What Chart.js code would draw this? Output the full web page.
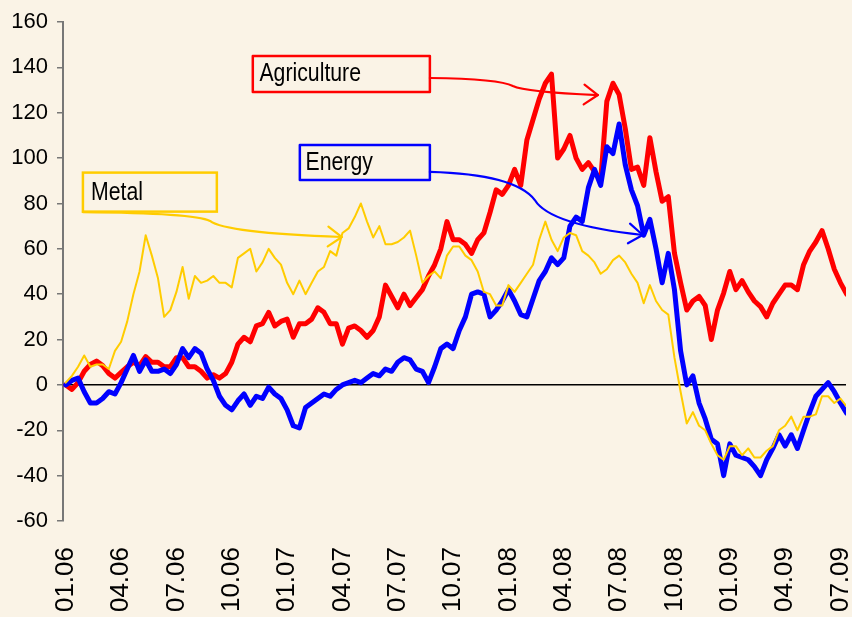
<!DOCTYPE html>
<html>
<head>
<meta charset="utf-8">
<script src="https://cdn.jsdelivr.net/npm/chart.js@4.4.0/dist/chart.umd.min.js"></script>
<style>
  html, body { margin: 0; padding: 0; background: #FAF3E6; }
  #wrap { width: 852px; height: 617px; }
</style>
</head>
<body>
<div id="wrap"><canvas id="chart" width="852" height="617"></canvas></div>
<script>
// quarter labels, one every 3 months starting 01.06
var tickLabels = ['01.06', '04.06', '07.06', '10.06', '01.07', '04.07', '07.07', '10.07',
                  '01.08', '04.08', '07.08', '10.08', '01.09', '04.09', '07.09'];

// one sample every third of a month (% change)
var step = 1 / 3;

var agriculture = [
  0, -2, 1, 6, 9, 10.5, 8.5, 5, 3, 5.5,
  8, 10, 8.5, 12.5, 10, 10, 8, 8, 12, 12,
  8, 8, 6, 3, 4.5, 3, 5, 10, 18, 21,
  19, 26, 27, 32, 26, 28, 29, 21, 27, 27,
  29, 34, 32, 27, 27, 18, 25, 26, 24, 21,
  24, 30, 44, 39, 34, 40, 35, 38.5, 42, 48,
  53, 60, 72, 64, 64, 62, 58, 64, 67, 76,
  86, 84, 88, 95, 88, 108, 117, 126, 133, 137,
  100, 104, 110, 100, 95, 98, 94, 90, 125, 133,
  128, 113, 95, 96, 88, 109, 94, 81, 83, 58,
  45, 33, 37, 39, 35, 20, 33, 40.5, 50, 42,
  46, 41, 37, 34.5, 30, 36, 40, 44, 44, 42,
  53, 59, 63, 68, 60, 51, 45, 40
];

var energy = [
  0, 2, 3, -3, -8, -8, -6, -3, -4, 1,
  7, 13, 6, 11, 6, 6, 7, 5, 9, 16,
  12, 16, 14, 7, 2, -5, -9, -11, -7, -4,
  -9, -5, -6, -1, -4, -6, -11, -18, -19, -10,
  -8, -6, -4, -5, -2, 0, 1, 2, 1, 3,
  5, 4, 7, 6, 10, 12, 11, 7, 6, 1,
  8, 16, 18, 16, 24, 30, 40, 41, 40, 30,
  33, 37, 42, 37, 31, 30, 38, 46, 50, 56,
  53, 56, 70, 74, 72, 87, 95, 88, 105, 102,
  115, 97, 86, 79, 66, 73, 60, 45, 58, 42,
  15, 0, 4, -8, -15, -24, -26, -40, -26, -31,
  -32, -33, -36, -40, -33, -28, -22, -27, -22, -28,
  -20, -12, -5, -2, 1, -3, -8, -12.5
];

var metal = [
  1, 4, 8, 13, 8, 9, 9, 7, 15, 19,
  28, 40, 50, 66, 57, 47, 30, 33, 41, 52,
  38, 48, 45, 46, 48, 45, 45, 43, 56, 58,
  60, 50, 54, 60, 56, 53, 45, 40, 46, 40,
  45, 50, 52, 59, 57, 67, 69, 74, 80, 72,
  65, 70, 62, 62, 63, 65, 68, 57, 45, 48,
  50, 47, 57, 61, 61, 57, 55, 50, 41, 40,
  35, 35, 44, 41, 45, 49, 53, 64, 72, 64,
  59, 65, 67, 66, 59, 57, 54, 49, 51, 55,
  57, 54, 49, 45, 36, 44, 37, 33, 31, 12,
  -3, -17, -12, -18, -20, -26, -31, -33, -27, -27,
  -31, -28, -32, -32, -29, -27, -20, -18, -14, -20,
  -14, -14, -13, -5, -5, -8, -6, -9.5
];

var BG = '#FAF3E6';
var FONT = "'Liberation Sans', Arial, sans-serif";

// callouts in data units: box corners, text anchor, connector (start, ctrl, mid, ctrl, tip)
var callouts = [
  { label: 'Metal', color: '#FFCC00',
    box: [0.93, 93.6, 8.19, 76.4], text: [1.37, 84.6],
    path: [[0.93, 76.2], [6.98, 75.8], [7.82, 72.3], [8.64, 67.0], [14.97, 65.2]] },
  { label: 'Agriculture', color: '#FF0000',
    box: [10.14, 145.0, 19.74, 129.1], text: [10.5, 137.0],
    path: [[19.74, 135.3], [23.53, 134.9], [24.24, 131.8], [24.89, 129.2], [28.85, 127.8]] },
  { label: 'Energy', color: '#0000FF',
    box: [12.69, 105.8, 19.74, 90.3], text: [13.0, 98.0],
    path: [[19.74, 93.9], [24.35, 92.9], [25.43, 81.5], [26.24, 70.5], [31.28, 66.1]] }
];

function toPoints(values) {
  return values.map(function (v, i) { return { x: i * step, y: v }; });
}

var background = {
  id: 'background',
  beforeDraw: function (chart) {
    var ctx = chart.ctx;
    ctx.save();
    ctx.fillStyle = BG;
    ctx.fillRect(0, 0, chart.width, chart.height);
    ctx.restore();
  }
};

var calloutPlugin = {
  id: 'callouts',
  afterDatasetsDraw: function (chart) {
    var ctx = chart.ctx, xs = chart.scales.x, ys = chart.scales.y;
    function p(pt) { return [xs.getPixelForValue(pt[0]), ys.getPixelForValue(pt[1])]; }
    ctx.save();
    callouts.forEach(function (c) {
      var a = p([c.box[0], c.box[1]]), b = p([c.box[2], c.box[3]]);
      ctx.fillStyle = BG;
      ctx.fillRect(a[0], a[1], b[0] - a[0], b[1] - a[1]);
      ctx.strokeStyle = c.color;
      ctx.lineWidth = 2.5;
      ctx.strokeRect(a[0], a[1], b[0] - a[0], b[1] - a[1]);

      // narrow-looking label text
      var t = p(c.text);
      ctx.save();
      ctx.translate(t[0], t[1]);
      ctx.scale(0.85, 1);
      ctx.fillStyle = '#000';
      ctx.font = '25px ' + FONT;
      ctx.textAlign = 'left';
      ctx.textBaseline = 'middle';
      ctx.fillText(c.label, 0, 0);
      ctx.restore();

      var pts = c.path.map(p);
      ctx.lineWidth = 2.2;
      ctx.lineJoin = 'round';
      ctx.lineCap = 'round';
      ctx.beginPath();
      ctx.moveTo(pts[0][0], pts[0][1]);
      ctx.quadraticCurveTo(pts[1][0], pts[1][1], pts[2][0], pts[2][1]);
      ctx.quadraticCurveTo(pts[3][0], pts[3][1], pts[4][0], pts[4][1]);
      ctx.stroke();

      // open arrow head
      var tip = pts[4], back = [pts[4][0] - 20, pts[4][1] - (pts[4][1] - pts[3][1]) * 20 / (pts[4][0] - pts[3][0])];
      var ang = Math.atan2(tip[1] - back[1], tip[0] - back[0]);
      var len = 17, spread = 0.62;
      ctx.beginPath();
      ctx.moveTo(tip[0] - len * Math.cos(ang - spread), tip[1] - len * Math.sin(ang - spread));
      ctx.lineTo(tip[0], tip[1]);
      ctx.lineTo(tip[0] - len * Math.cos(ang + spread), tip[1] - len * Math.sin(ang + spread));
      ctx.stroke();
    });
    ctx.restore();
  }
};

Chart.defaults.color = '#000';
Chart.defaults.font.family = FONT;

new Chart(document.getElementById('chart'), {
  type: 'line',
  data: {
    datasets: [
      { label: 'Metal', data: toPoints(metal), borderColor: '#FFCC00', borderWidth: 2, order: 0 },
      { label: 'Energy', data: toPoints(energy), borderColor: '#0000FF', borderWidth: 5, order: 1 },
      { label: 'Agriculture', data: toPoints(agriculture), borderColor: '#FF0000', borderWidth: 5, order: 2 }
    ]
  },
  options: {
    responsive: false,
    animation: false,
    parsing: false,
    elements: {
      point: { radius: 0 },
      line: { tension: 0, borderJoinStyle: 'round', borderCapStyle: 'round' }
    },
    layout: { padding: { top: 22, right: 6, bottom: 0, left: 0 } },
    plugins: { legend: { display: false }, tooltip: { enabled: false } },
    scales: {
      x: {
        type: 'linear',
        min: -0.15,
        max: 42.3,
        border: { display: false },
        grid: { display: false, drawTicks: false },
        ticks: {
          stepSize: 3,
          includeBounds: false,
          autoSkip: false,
          maxRotation: 90,
          minRotation: 90,
          padding: 26,
          font: { size: 26 },
          callback: function (v) { return tickLabels[Math.round(v / 3)]; }
        },
        afterFit: function (s) { s.height = 96; s.paddingLeft = 0; s.paddingRight = 0; }
      },
      y: {
        min: -60,
        max: 160,
        border: { display: true, color: '#777', width: 2 },
        grid: {
          drawOnChartArea: true,
          color: function (c) { return c.tick && c.tick.value === 0 ? '#000' : 'rgba(0,0,0,0)'; },
          lineWidth: 1.5,
          tickColor: '#777',
          tickLength: 6,
          tickWidth: 1.5
        },
        ticks: { stepSize: 20, padding: 9, font: { size: 22 } },
        afterFit: function (s) { s.width = 63; s.paddingTop = 0; s.paddingBottom = 0; }
      }
    }
  },
  plugins: [background, calloutPlugin]
});
</script>
</body>
</html>
